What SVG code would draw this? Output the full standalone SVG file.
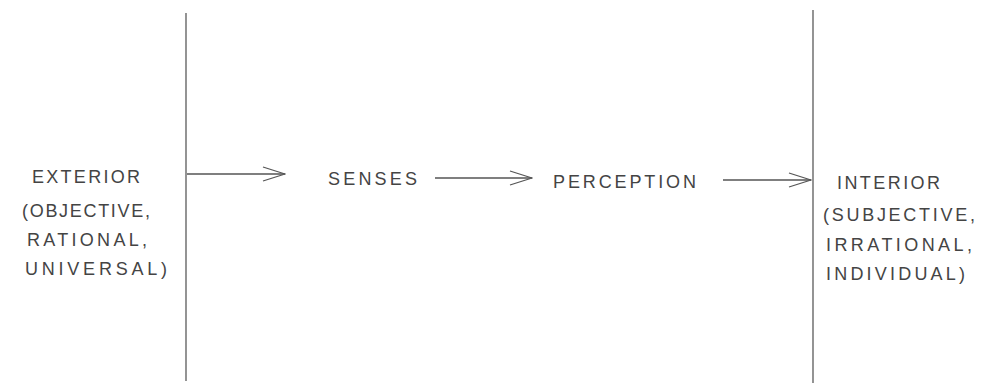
<svg xmlns="http://www.w3.org/2000/svg" width="986" height="383" viewBox="0 0 986 383">
<defs>
<style>
.t{font-family:"Liberation Sans","DejaVu Sans",sans-serif;font-size:18px;fill:#444;}
.c{stroke:#555;stroke-width:1.3;fill:none;}
.d{stroke:#666;stroke-width:1.4;}
</style>
<marker id="ah" viewBox="0 0 24 16" refX="23" refY="8" markerWidth="24" markerHeight="16" markerUnits="userSpaceOnUse" orient="auto">
<path d="M1,1 L23,8 L1,15" fill="none" stroke="#555" stroke-width="1.3"/>
</marker>
</defs>
<rect width="986" height="383" fill="#fff"/>
<g id="dividers">
<line class="d" x1="186" y1="13" x2="186" y2="381"/>
<line class="d" x1="813" y1="10" x2="813" y2="383"/>
</g>
<g id="exterior">
<text class="t" x="32" y="183" textLength="108" lengthAdjust="spacing">EXTERIOR</text>
<text class="t" x="22" y="217" textLength="128" lengthAdjust="spacing">(OBJECTIVE,</text>
<text class="t" x="27" y="246" textLength="120" lengthAdjust="spacing">RATIONAL,</text>
<text class="t" x="25" y="275" textLength="142" lengthAdjust="spacing">UNIVERSAL)</text>
</g>
<g id="senses">
<text class="t" x="328" y="185" textLength="89" lengthAdjust="spacing">SENSES</text>
</g>
<g id="perception">
<text class="t" x="553" y="188" textLength="143" lengthAdjust="spacing">PERCEPTION</text>
</g>
<g id="interior">
<text class="t" x="837" y="189" textLength="103" lengthAdjust="spacing">INTERIOR</text>
<text class="t" x="823" y="221" textLength="152" lengthAdjust="spacing">(SUBJECTIVE,</text>
<text class="t" x="826" y="251" textLength="146" lengthAdjust="spacing">IRRATIONAL,</text>
<text class="t" x="826" y="280" textLength="139" lengthAdjust="spacing">INDIVIDUAL)</text>
</g>
<g id="connectors">
<line class="c" x1="187" y1="174" x2="285" y2="174" marker-end="url(#ah)"/>
<line class="c" x1="435" y1="178" x2="532" y2="178" marker-end="url(#ah)"/>
<line class="c" x1="723" y1="180" x2="811" y2="180" marker-end="url(#ah)"/>
</g>
</svg>
